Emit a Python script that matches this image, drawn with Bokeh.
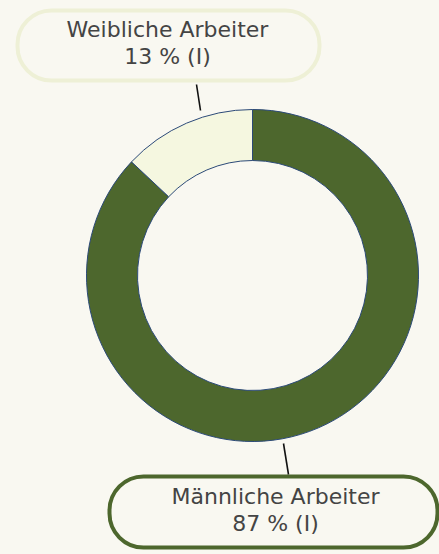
import math
from bokeh.plotting import figure
from bokeh.models import Range1d, BoxAnnotation, ColumnDataSource, GlobalInlineStyleSheet
from bokeh.core.properties import value
from bokeh.embed import file_html
from bokeh.resources import INLINE

# ---- data ----
categories = ["Männliche Arbeiter", "Weibliche Arbeiter"]
shares = [87, 13]
share_labels = ["87 % (I)", "13 % (I)"]
colors = ["#4d672d", "#f5f7e0"]

BG = "#f9f8f1"
W, H = 439, 554

total = sum(shares)
starts, ends = [], []
acc = 0.0
for v in shares:
    a0 = math.pi / 2 - 2 * math.pi * (acc + v) / total
    a1 = math.pi / 2 - 2 * math.pi * acc / total
    starts.append(a0)
    ends.append(a1)
    acc += v

src = ColumnDataSource(dict(cat=categories, val=shares, start=starts, end=ends, color=colors))

p = figure(width=W, height=H, output_backend="svg", toolbar_location=None,
           x_range=Range1d(0, W), y_range=Range1d(0, H),
           background_fill_color=BG, border_fill_color=BG,
           min_border=0, outline_line_color=None,
           stylesheets=[GlobalInlineStyleSheet(css=f"html,body{{background:{BG};margin:0;padding:0;}}")])
p.axis.visible = False
p.grid.visible = False

cx, cy = 252, H - 275

# label boxes (underlay so text glyphs sit on top)
top_box = BoxAnnotation(left=17, right=319, top=H - 10, bottom=H - 80,
                        fill_color=BG, fill_alpha=1, line_color="#eef0d6", line_alpha=1,
                        line_width=4, border_radius=34, level="underlay")
bot_box = BoxAnnotation(left=109, right=437, top=H - 476, bottom=H - 547,
                        fill_color=BG, fill_alpha=1, line_color="#4d672d", line_alpha=1,
                        line_width=4, border_radius=34, level="underlay")
p.add_layout(top_box)
p.add_layout(bot_box)

p.annular_wedge(x=cx, y=cy, inner_radius=115, outer_radius=166,
                inner_radius_units="screen", outer_radius_units="screen",
                start_angle="start", end_angle="end", fill_color="color",
                line_color="#2c4a78", line_width=1, source=src)

# leader lines
p.segment(x0=[196, 283], y0=[H - 84, H - 443], x1=[200, 288], y1=[H - 110, H - 474],
          line_color="#111111", line_width=1.6)

label_pos = {"Weibliche Arbeiter": (167, 29, 56), "Männliche Arbeiter": (275, 496, 523)}
xs, ys, txt = [], [], []
for c, s in zip(categories, share_labels):
    x, y1, y2 = label_pos[c]
    xs += [x, x]
    ys += [H - y1, H - y2]
    txt += [c, s]
p.text(x=xs, y=ys, text=txt, text_align="center", text_baseline="middle",
       text_font=value("DejaVu Sans"), text_font_size="22px", text_color="#444444")

open("out.html", "w").write(file_html(p, INLINE))
